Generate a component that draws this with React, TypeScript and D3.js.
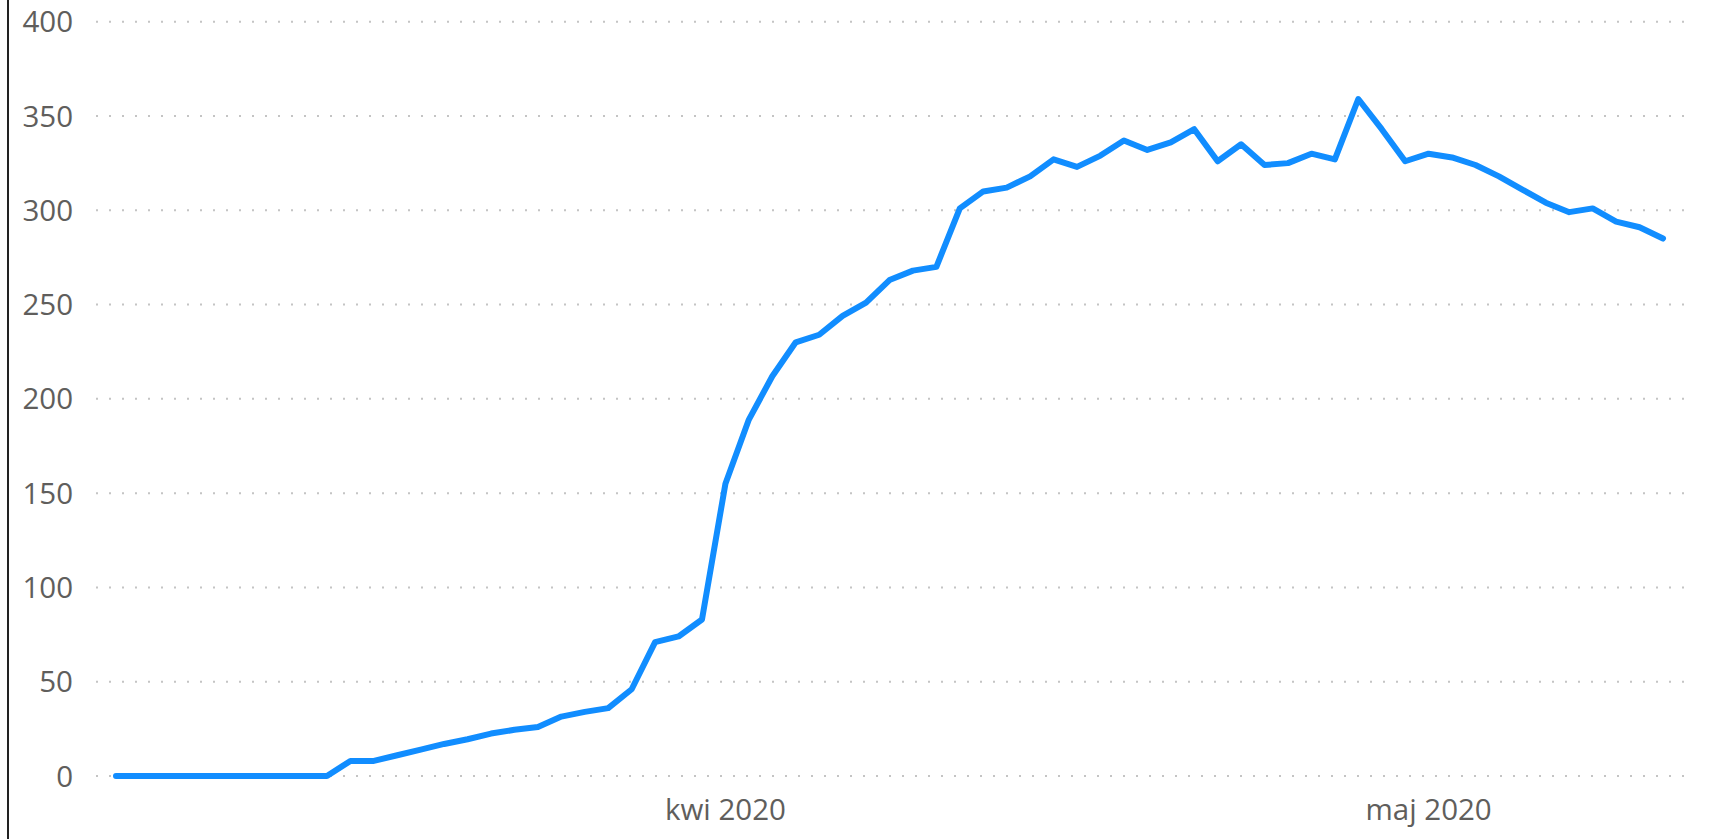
import React from "react";
import * as d3 from "d3";

const startDate = Date.UTC(2020, 2, 6);
const values: number[] = [
  0, 0, 0, 0, 0, 0, 0, 0, 0, 0,
  8, 8, 11, 14, 17, 19.5, 22.5, 24.5, 26, 31.5,
  34, 36, 46, 71, 74, 83, 155, 189, 212, 230,
  234, 244, 251, 263, 268, 270, 301, 310, 312, 318,
  327, 323, 329, 337, 332, 336, 343, 326, 335, 324,
  325, 330, 327, 359, 343, 326, 330, 328, 324, 318,
  311, 304, 299, 301, 294, 291, 285,
];
const dates: Date[] = values.map((_, i) => new Date(startDate + i * 86400000));
const yTicks: number[] = [0, 50, 100, 150, 200, 250, 300, 350, 400];
const xTickDates: Date[] = [new Date(Date.UTC(2020, 3, 1)), new Date(Date.UTC(2020, 4, 1))];
const xTickLabels: string[] = ["kwi 2020", "maj 2020"];

const W = 1729;
const H = 839;
const FONT = "'Open Sans', 'Noto Sans', sans-serif";

export default function App() {
  const x = d3
    .scaleUtc()
    .domain([dates[0], dates[dates.length - 1]])
    .range([116, 1663]);
  const y = d3.scaleLinear().domain([0, 400]).range([776, 21.7]);
  const line = d3
    .line<number>()
    .x((_, i) => x(dates[i]))
    .y((d) => y(d));

  return (
    <svg
      width={W}
      height={H}
      style={{ position: "absolute", left: 0, top: 0, background: "#fff" }}
    >
      <rect x={7} y={0} width={2} height={H} fill="#222" />
      {yTicks.map((t) => (
        <g key={t}>
          <line
            x1={96}
            x2={1686}
            y1={y(t)}
            y2={y(t)}
            stroke="#c4c4c4"
            strokeWidth={2}
            strokeDasharray="2 11"
          />
          <text
            x={73}
            y={y(t)}
            dy="0.36em"
            textAnchor="end"
            fontFamily={FONT}
            fontSize={29.5}
            fill="#605E5C"
          >
            {t}
          </text>
        </g>
      ))}
      {xTickDates.map((d, i) => (
        <text
          key={i}
          x={x(d)}
          y={820}
          textAnchor="middle"
          fontFamily={FONT}
          fontSize={29.5}
          fill="#605E5C"
        >
          {xTickLabels[i]}
        </text>
      ))}
      <path
        d={line(values) || ""}
        fill="none"
        stroke="#118DFF"
        strokeWidth={6}
        strokeLinejoin="round"
        strokeLinecap="round"
      />
    </svg>
  );
}
